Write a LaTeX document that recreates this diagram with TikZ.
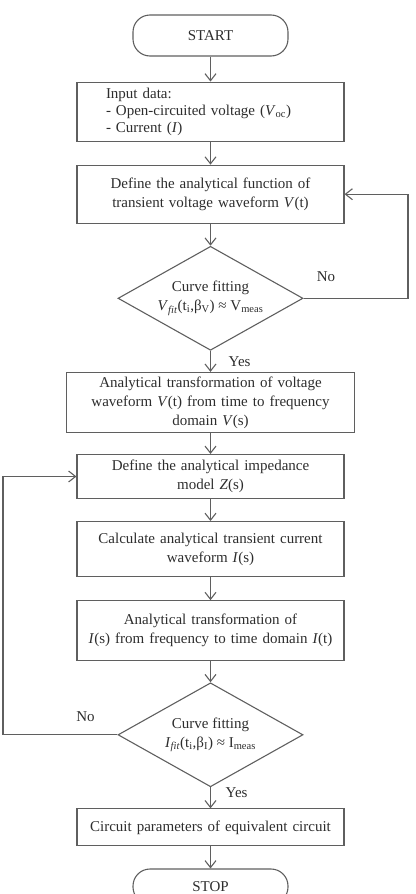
\documentclass[tikz,border=0pt]{standalone}
\usepackage{fontspec}
\setmainfont{Liberation Serif}
\usepackage{xcolor}
\usepackage{tikz}
\usetikzlibrary{positioning,shapes,arrows.meta}
\definecolor{linegray}{RGB}{95,95,95}
\definecolor{textgray}{RGB}{45,45,45}
\tikzstyle{terminal}=[rectangle, draw=linegray, line width=1.1pt, rounded corners=17pt,
        minimum width=155pt, minimum height=41pt, text=textgray]
\tikzstyle{process}=[rectangle, draw=linegray, line width=1.1pt, text centered, align=center,
        text=textgray, minimum width=267pt, text width=259pt, inner xsep=4pt]
\tikzstyle{inputbox}=[rectangle, draw=linegray, line width=1.1pt, align=left,
        text=textgray, text width=209pt, inner xsep=29pt, minimum height=59pt,
        font={\fontsize{15pt}{17pt}\selectfont}]
\tikzstyle{decision}=[diamond, draw=linegray, line width=1.1pt, aspect=1.78, align=center,
        minimum width=185pt, minimum height=104pt, inner sep=0pt, text=textgray]
\tikzstyle{label}=[text=textgray, inner sep=0pt]
\tikzstyle{flow}=[draw=linegray, line width=1.1pt, -{Straight Barb[length=7pt,width=11pt]}]

\begin{document}
\begin{tikzpicture}[font={\fontsize{15pt}{19pt}\selectfont}]
        \useasboundingbox (0,0) rectangle (415pt,-894pt);
        \node (start) [terminal] at (210.5pt,-35.5pt) {START};
        \node (input) [inputbox, below=25pt of start]
        {
          Input data:\\
          - Open-circuited voltage (\textit{V}\textsubscript{oc})\\
          - Current (\textit{I})
        };
        \node (define) [process, minimum height=58pt, below=23pt of input]
        {
          Define the analytical function of\\
          transient voltage waveform \textit{V}(t)
        };
        \node (fitv) [decision, below=22pt of define]
        {
          Curve fitting\\
          \textit{V}\textsubscript{\textit{fit}}(t\textsubscript{i},β\textsubscript{V}) ≈ V\textsubscript{meas}
        };
        \node (transv) [process, minimum width=288pt, text width=280pt, minimum height=60pt, below=21pt of fitv]
        {
          Analytical transformation of voltage\\
          waveform \textit{V}(t) from time to frequency\\
          domain \textit{V}(s)
        };
        \node (imped) [process, minimum height=44pt, below=21pt of transv]
        {
          Define the analytical impedance\\
          model \textit{Z}(s)
        };
        \node (calc) [process, minimum height=55pt, below=22pt of imped]
        {
          Calculate analytical transient current\\
          waveform \textit{I}(s)
        };
        \node (transi) [process, minimum height=60pt, below=23pt of calc]
        {
          Analytical transformation of\\
          \textit{I}(s) from frequency to time domain \textit{I}(t)
        };
        \node (fiti) [decision, below=21pt of transi]
        {
          Curve fitting\\
          \textit{I}\textsubscript{\textit{fit}}(t\textsubscript{i},β\textsubscript{I}) ≈ I\textsubscript{meas}
        };
        \node (params) [process, minimum height=37pt, below=21pt of fiti]
        {
          Circuit parameters of equivalent circuit
        };
        \node (stop) [terminal, minimum height=35pt, below=22pt of params] {STOP};

        % branch labels
        \node (yesv) [label, anchor=west] at ([xshift=18pt,yshift=-11pt]fitv.south) {Yes};
        \node (nov) [label, anchor=west] at ([xshift=13pt,yshift=22pt]fitv.east) {No};
        \node (yesi) [label, anchor=west] at ([xshift=15pt,yshift=-5pt]fiti.south) {Yes};
        \node (noi) [label] at ([xshift=-32pt,yshift=18pt]fiti.west) {No};

        % main flow
        \foreach \a/\b in {start/input, input/define, define/fitv, fitv/transv, transv/imped,
                           imped/calc, calc/transi, transi/fiti, fiti/params, params/stop}
          \draw[flow] (\a) -- (\b);

        % loops back
        \coordinate (loopv) at (408pt,-295pt);
        \coordinate (loopi) at (3pt,-726pt);
        \draw[flow] (fitv.east) -- (fitv.east -| loopv) |- (define.east);
        \draw[flow] (fiti.west) -- (fiti.west -| loopi) |- (imped.west);
\end{tikzpicture}
\end{document}
